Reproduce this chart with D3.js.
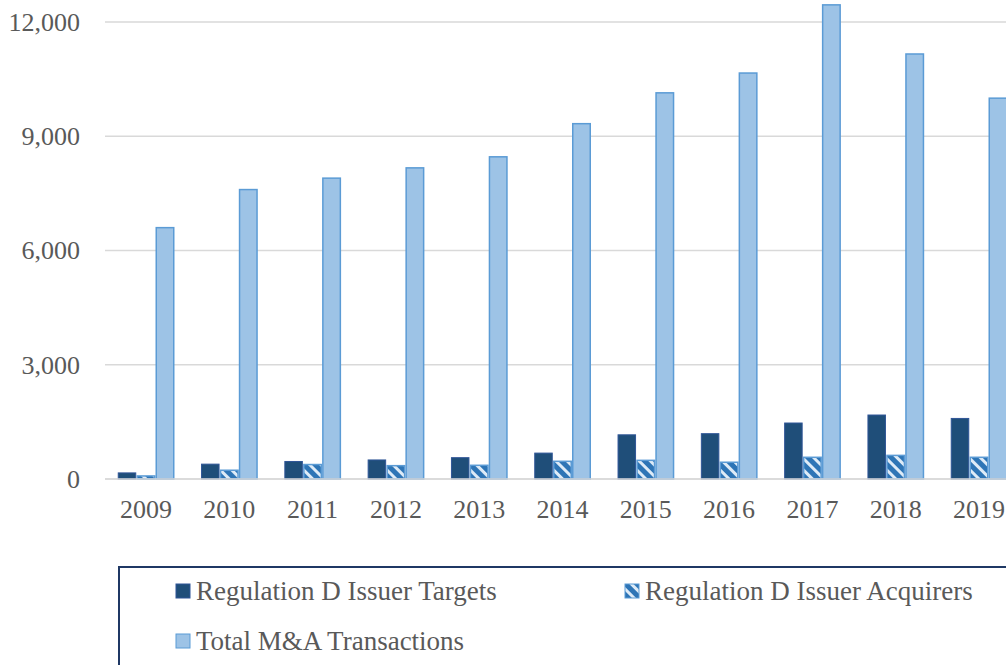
<!DOCTYPE html>
<html>
<head>
<meta charset="utf-8">
<script src="https://cdn.jsdelivr.net/npm/d3@7"></script>
<style>
html,body{margin:0;padding:0;background:#fff;overflow:hidden;}
svg{display:block;font-family:"Liberation Serif","Times New Roman",serif;}
</style>
</head>
<body>
<svg id="chart" width="1006" height="665"></svg>
<script>
const years = ["2009","2010","2011","2012","2013","2014","2015","2016","2017","2018","2019"];
const targets = [160, 390, 460, 500, 560, 680, 1160, 1190, 1470, 1680, 1590];
const acquirers = [80, 230, 380, 350, 360, 465, 490, 440, 570, 620, 570];
const totals = [6600, 7600, 7900, 8170, 8460, 9330, 10140, 10660, 12450, 11160, 10000];
const yTicks = [0, 3000, 6000, 9000, 12000];
const seriesNames = ["Regulation D Issuer Targets", "Regulation D Issuer Acquirers", "Total M&A Transactions"];

const svg = d3.select("#chart");
const defs = svg.append("defs");
const pat = defs.append("pattern").attr("id","hatch").attr("patternUnits","userSpaceOnUse")
  .attr("width",8).attr("height",8).attr("patternTransform","rotate(-45)");
pat.append("rect").attr("width",8).attr("height",8).attr("fill","#2e75b6");
pat.append("rect").attr("x",0).attr("width",3).attr("height",8).attr("fill","#deebf7");

const x = d3.scaleBand().domain(years).range([104.35, 1020.65]).paddingInner(0).paddingOuter(0);
const xi = d3.scaleBand().domain(seriesNames).range([0, 57]);
const y = d3.scaleLinear().domain([0, 12000]).range([479, 22]);

const font = '"Liberation Serif","Times New Roman",serif';

// gridlines
svg.append("g").selectAll("line").data(yTicks).join("line")
  .attr("x1", 105).attr("x2", 1006)
  .attr("y1", d => y(d)).attr("y2", d => y(d))
  .attr("stroke", "#d9d9d9").attr("stroke-width", 1.5);

// y axis labels
const yAxis = d3.axisLeft(y).tickValues(yTicks).tickSize(0).tickPadding(0).tickFormat(d3.format(","));
const ya = svg.append("g").attr("transform","translate(80,0)").call(yAxis);
ya.select(".domain").remove();
ya.selectAll("text").attr("font-size", 26).attr("fill", "#595959").attr("font-family", font);

// x axis labels
const xAxis = d3.axisBottom(x).tickSize(0).tickPadding(0);
const xa = svg.append("g").attr("transform","translate(0,500)").call(xAxis);
xa.select(".domain").remove();
xa.selectAll("text").attr("font-size", 26).attr("fill", "#595959").attr("font-family", font);

const groups = svg.append("g").selectAll("g").data(years).join("g")
  .attr("transform", d => `translate(${x(d) + x.bandwidth()/2 - 28.5},0)`);

const styles = [
  {fill:"#1f4e79", stroke:"#2f5597", sw:1},
  {fill:"url(#hatch)", stroke:"#5b9bd5", sw:1.5},
  {fill:"#9dc3e6", stroke:"#5b9bd5", sw:1.5}
];
const data = [targets, acquirers, totals];

groups.each(function(yr, i){
  const g = d3.select(this);
  seriesNames.forEach((s, k) => {
    const v = data[k][i];
    g.append("rect")
      .attr("x", xi(s) + 0.75).attr("width", xi.bandwidth() - 1.5)
      .attr("y", y(v)).attr("height", y(0) - y(v))
      .attr("fill", styles[k].fill).attr("stroke", styles[k].stroke).attr("stroke-width", styles[k].sw);
  });
});

// baseline
svg.append("line").attr("x1",105).attr("x2",1006).attr("y1",y(0)).attr("y2",y(0))
  .attr("stroke","#d9d9d9").attr("stroke-width",1.5);

// legend
svg.append("rect").attr("x",119).attr("y",567).attr("width",1000).attr("height",200)
  .attr("fill","none").attr("stroke","#1f3864").attr("stroke-width",2);
const legPos = [[176,591],[625,591],[176,641]];
seriesNames.forEach((s,k)=>{
  const [lx,ly] = legPos[k];
  svg.append("rect").attr("x",lx).attr("y",ly-7).attr("width",14).attr("height",14)
    .attr("fill",styles[k].fill).attr("stroke",styles[k].stroke).attr("stroke-width",1);
  svg.append("text").attr("x",lx+20).attr("y",ly+9).text(s)
    .attr("font-size",27).attr("fill","#595959").attr("font-family", font);
});
</script>
</body>
</html>
